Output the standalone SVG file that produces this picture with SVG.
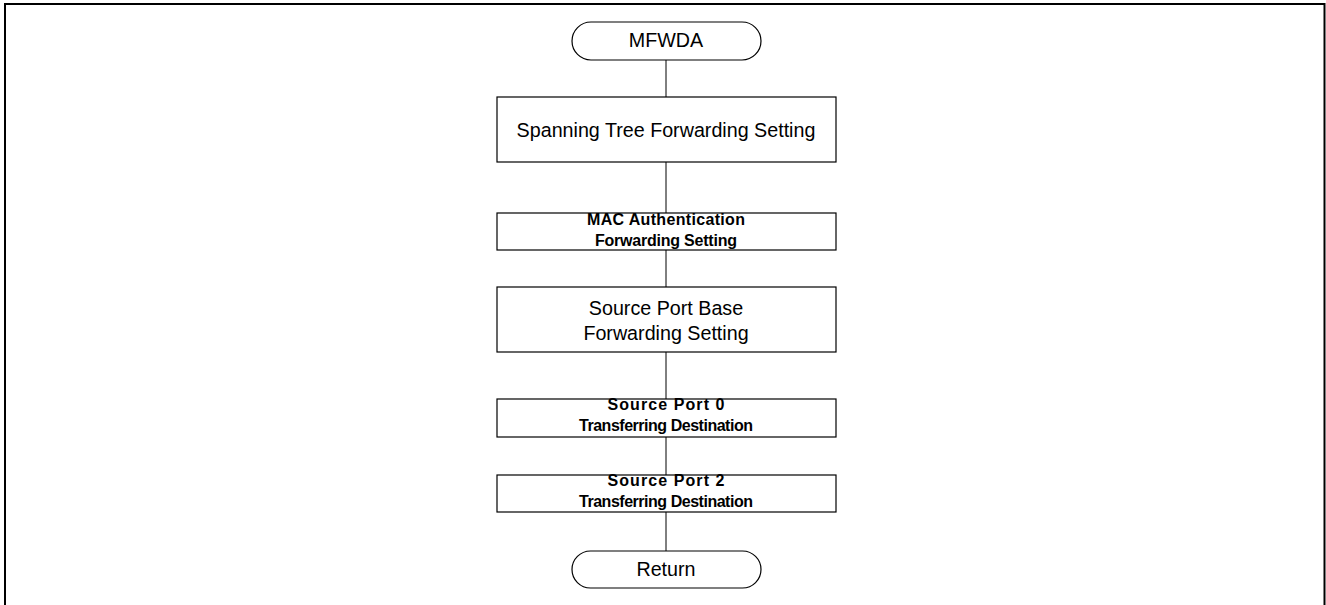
<svg xmlns="http://www.w3.org/2000/svg" width="1326" height="605" viewBox="0 0 1326 605">
<style>
.box{fill:#fff;stroke:#000;stroke-width:1.2}
.term{fill:#fff;stroke:#000;stroke-width:1.2}
.conn{stroke:#000;stroke-width:1;fill:none}
.t{font-family:"Liberation Sans",Arial,sans-serif;fill:#000;text-anchor:middle}
.r{font-size:19.7px}
.b{font-size:16px;font-weight:bold}
</style>
<rect x="5" y="4" width="1319.5" height="640" fill="none" stroke="#000" stroke-width="2"/>
<g id="connectors">
<line class="conn" x1="666" y1="60" x2="666" y2="97"/>
<line class="conn" x1="666" y1="162" x2="666" y2="213"/>
<line class="conn" x1="666" y1="250" x2="666" y2="287"/>
<line class="conn" x1="666" y1="352" x2="666" y2="399"/>
<line class="conn" x1="666" y1="437" x2="666" y2="475"/>
<line class="conn" x1="666" y1="512" x2="666" y2="551"/>
</g>
<g id="start">
<rect class="term" x="572" y="22" width="189" height="38" rx="19" ry="19"/>
<text class="t r" x="666" y="47">MFWDA</text>
</g>
<g id="stp">
<rect class="box" x="497" y="97" width="339" height="65"/>
<text class="t r" x="666" y="137">Spanning Tree Forwarding Setting</text>
</g>
<g id="mac">
<rect class="box" x="497" y="213" width="339" height="37"/>
<text class="t b" x="666" y="224.5" textLength="158">MAC Authentication</text>
<text class="t b" x="666" y="246" textLength="142">Forwarding Setting</text>
</g>
<g id="spb">
<rect class="box" x="497" y="287" width="339" height="65"/>
<text class="t r" x="666" y="315">Source Port Base</text>
<text class="t r" x="666" y="339.5">Forwarding Setting</text>
</g>
<g id="sp0">
<rect class="box" x="497" y="399" width="339" height="38"/>
<text class="t b" x="666" y="410" textLength="117">Source Port 0</text>
<text class="t b" x="666" y="431" textLength="174">Transferring Destination</text>
</g>
<g id="sp2">
<rect class="box" x="497" y="475" width="339" height="37"/>
<text class="t b" x="666" y="486" textLength="117">Source Port 2</text>
<text class="t b" x="666" y="507" textLength="174">Transferring Destination</text>
</g>
<g id="return">
<rect class="term" x="572" y="551" width="189" height="37" rx="18.5" ry="18.5"/>
<text class="t r" x="666" y="576">Return</text>
</g>
</svg>
